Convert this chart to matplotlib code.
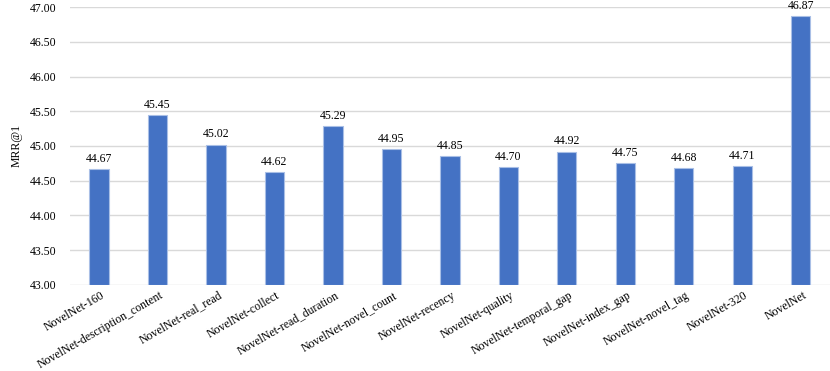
import numpy as np
import matplotlib.pyplot as plt

models = ['NovelNet-160', 'NovelNet-description_content', 'NovelNet-real_read',
          'NovelNet-collect', 'NovelNet-read_duration', 'NovelNet-novel_count',
          'NovelNet-recency', 'NovelNet-quality', 'NovelNet-temporal_gap',
          'NovelNet-index_gap', 'NovelNet-novel_tag', 'NovelNet-320', 'NovelNet']
mrr1 = [44.67, 45.45, 45.02, 44.62, 45.29, 44.95, 44.85, 44.70, 44.92,
        44.75, 44.68, 44.71, 46.87]

plt.rcParams['font.family'] = ['Liberation Serif', 'DejaVu Serif']
plt.rcParams['font.size'] = 8.5

fig = plt.figure(figsize=(8.3, 3.71), dpi=100)
ax = fig.add_axes([0.084, 0.232, 0.916, 0.749])

ind = np.arange(len(models))
rects = ax.bar(ind, np.array(mrr1) - 43, 0.33, bottom=43, color='#4472C4',
               edgecolor='#a9bfe6', linewidth=0.8, zorder=3)

# value labels on top of each bar
for rect, v in zip(rects, mrr1):
    ax.text(rect.get_x() + rect.get_width() / 2., v + 0.06, '%.2f' % v,
            ha='center', va='bottom')

ax.set_xlim(-0.5, len(models) - 0.5)
ax.set_ylim(43, 47)
ax.set_yticks(np.arange(43, 47.01, 0.5))
ax.set_yticklabels(['%.2f' % t for t in np.arange(43, 47.01, 0.5)])
ax.set_xticks(ind + 0.03)
ax.set_xticklabels(models, rotation=30, ha='right', rotation_mode='anchor')
ax.tick_params(length=0, pad=9.5)
ax.tick_params(axis='x', pad=3)
ax.grid(axis='y', color='#d9d9d9', linewidth=1, zorder=0)
for s in ax.spines.values():
    s.set_visible(False)
ax.set_ylabel('MRR@1')
ax.yaxis.set_label_coords(-0.062, 0.5)

fig.savefig('out.png', dpi=100)
